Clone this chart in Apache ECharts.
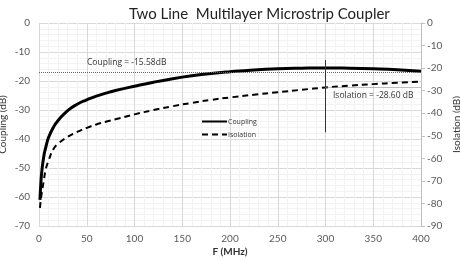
<!DOCTYPE html>
<html>
<head>
<meta charset="utf-8">
<script src="https://cdn.jsdelivr.net/npm/echarts@6/dist/echarts.min.js"></script>
<style>
  html, body { margin: 0; padding: 0; background: #fff; }
  #main { width: 460px; height: 260px; }
</style>
</head>
<body>
<div id="main"></div>
<script>
// frequency points (MHz)
const freq = [1, 2, 3, 5, 7, 10, 15, 20, 30, 40, 50, 60, 70, 80, 100, 120, 140, 160, 180, 200, 225, 250, 275, 300, 325, 350, 375, 400];
// coupling (dB), left axis
const coupling = [-61, -55, -51, -46, -43, -39.5, -36, -33.6, -30.2, -28, -26.5, -25.2, -24.2, -23.3, -21.8, -20.4, -19.2, -18.2, -17.4, -16.8, -16.2, -15.8, -15.6, -15.5, -15.6, -15.8, -16.1, -16.6];
// isolation (dB), right axis
const isolation = [-82, -78, -75, -70, -65, -61, -56, -53.5, -50.5, -48.3, -46.5, -45, -43.8, -42.7, -40.5, -38.6, -36.9, -35.4, -34.1, -33, -31.8, -30.7, -29.6, -28.6, -27.8, -27.1, -26.5, -26];

const couplingRef = -17;      // dotted reference line
const isolationRef = -28.6;
const markerFreq = 300;
const markerSpan = [-12.8, -37.7];

const font = "Lato, 'Open Sans', sans-serif";
const noteFont = "'Open Sans', sans-serif";

let myChart = echarts.init(document.getElementById("main"));
myChart.setOption({
  animation: false,
  textStyle: { fontFamily: font },
  title: {
    text: "Two Line  Multilayer Microstrip Coupler",
    left: 124,
    top: 2,
    textStyle: { fontFamily: font, fontSize: 15, fontWeight: "normal", color: "#222" }
  },
  grid: { left: 39, right: 39, top: 23, bottom: 34, outerBoundsMode: "none", containLabel: false },
  legend: {
    orient: "vertical",
    left: 196,
    top: 113,
    itemWidth: 25,
    itemHeight: 8,
    itemGap: 6,
    itemStyle: { opacity: 0 },
    textStyle: { fontFamily: noteFont, fontSize: 7, color: "#333", padding: [0, 0, 0, -4] },
    data: ["Coupling", "Isolation"]
  },
  xAxis: {
    type: "value",
    min: 0,
    max: 400,
    interval: 50,
    name: "F (MHz)",
    nameLocation: "middle",
    nameGap: 21,
    nameMoveOverlap: false,
    nameTextStyle: { fontSize: 10, fontWeight: "bold", color: "#333" },
    axisLine: { show: false },
    axisTick: { show: false },
    axisLabel: { fontSize: 10, color: "#595959", margin: 8 },
    splitLine: { lineStyle: { color: "#d9d9d9" } },
    minorTick: { show: false, splitNumber: 5 },
    minorSplitLine: { show: true, lineStyle: { color: "#f3f3f3" } }
  },
  yAxis: [
    {
      type: "value",
      min: -70,
      max: 0,
      interval: 10,
      name: "Coupling (dB)",
      nameLocation: "middle",
      nameGap: 31,
      nameMoveOverlap: false,
      nameTextStyle: { fontSize: 10, color: "#333" },
      axisLine: { show: false },
      axisTick: { show: false },
      axisLabel: { fontSize: 10, color: "#595959", margin: 9 },
      splitLine: { lineStyle: { color: "#d9d9d9" } },
      minorTick: { show: false, splitNumber: 5 },
      minorSplitLine: { show: true, lineStyle: { color: "#f3f3f3" } }
    },
    {
      type: "value",
      min: -90,
      max: 0,
      interval: 10,
      name: "Isolation (dB)",
      nameLocation: "middle",
      nameGap: 31,
      nameMoveOverlap: false,
      nameTextStyle: { fontSize: 10, color: "#333" },
      axisLine: { show: true, lineStyle: { color: "#bfbfbf" } },
      axisTick: { show: true, length: 4, lineStyle: { color: "#bfbfbf" } },
      axisLabel: { fontSize: 10, color: "#595959", margin: 6 },
      splitLine: { show: false }
    }
  ],
  series: [
    {
      name: "Coupling",
      type: "line",
      yAxisIndex: 0,
      smooth: true,
      showSymbol: false,
      symbol: "none",
      color: "#000",
      lineStyle: { width: 3, color: "#000" },
      data: freq.map((f, i) => [f, coupling[i]]),
      markLine: {
        silent: true,
        symbol: "none",
        label: { show: false },
        data: [
          [
            { coord: [0, couplingRef], lineStyle: { type: [1, 1], width: 1, color: "#666" } },
            { coord: [400, couplingRef] }
          ],
          [
            { coord: [markerFreq, markerSpan[0]], lineStyle: { type: "solid", width: 1, color: "#333" } },
            { coord: [markerFreq, markerSpan[1]] }
          ]
        ]
      }
    },
    {
      name: "Isolation",
      type: "line",
      yAxisIndex: 1,
      smooth: true,
      showSymbol: false,
      symbol: "none",
      color: "#000",
      lineStyle: { width: 2, color: "#000", type: [6, 4] },
      data: freq.map((f, i) => [f, isolation[i]]),
      markLine: {
        silent: true,
        symbol: "none",
        label: { show: false },
        data: [
          [
            { coord: [markerFreq, isolationRef], lineStyle: { type: [1, 1], width: 1, color: "#888" } },
            { coord: [400, isolationRef] }
          ]
        ]
      }
    }
  ],
  graphic: [
    {
      type: "text",
      left: 87,
      top: 58,
      z: 100,
      style: { text: "Coupling = -15.58dB", fontSize: 8.5, fontFamily: noteFont, fill: "#333" }
    },
    {
      type: "text",
      left: 333,
      top: 91,
      z: 100,
      style: { text: "Isolation = -28.60 dB", fontSize: 8.5, fontFamily: noteFont, fill: "#333" }
    }
  ]
});
</script>
</body>
</html>
